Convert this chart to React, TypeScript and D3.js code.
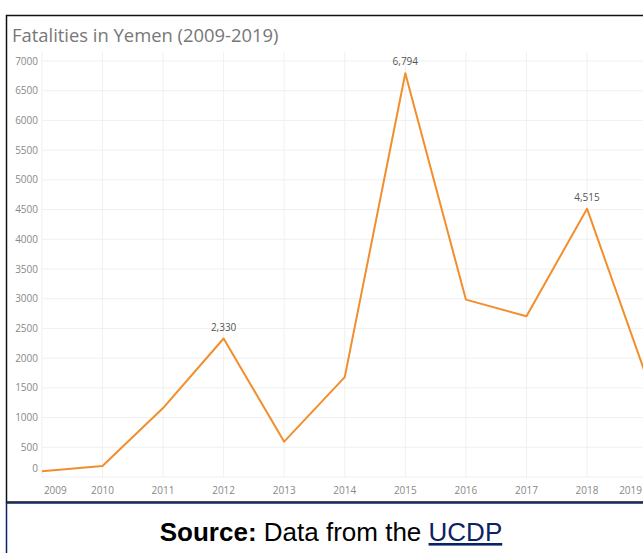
import React from "react";
import * as d3 from "d3";

const years = [2009, 2010, 2011, 2012, 2013, 2014, 2015, 2016, 2017, 2018, 2019];
const fatalities = [96, 186, 1160, 2330, 595, 1680, 6794, 2985, 2704, 4515, 1630];
const labeledYears = [2012, 2015, 2018];
const yTicks = [0, 500, 1000, 1500, 2000, 2500, 3000, 3500, 4000, 4500, 5000, 5500, 6000, 6500, 7000];

const W = 643;
const H = 553;

export default function App() {
  const x = d3.scaleLinear().domain([2009, 2019]).range([41.9, 647.6]);
  const y = d3.scaleLinear().domain([0, 7000]).range([477, 61]);
  const plotLeft = 42;
  const plotTop = 52;
  const plotBottom = 477;
  const line = d3
    .line<number>()
    .x((_, i) => x(years[i]))
    .y((d) => y(d));
  const fmt = d3.format(",");
  const tickFont = "'Open Sans', 'Noto Sans', sans-serif";
  const last = years.length - 1;

  return (
    <svg
      width={W}
      height={H}
      style={{ position: "absolute", left: 0, top: 0, background: "#fff" }}
    >
      <defs>
        <clipPath id="plotclip">
          <rect x={plotLeft} y={plotTop - 20} width={W - plotLeft} height={plotBottom - plotTop + 30} />
        </clipPath>
      </defs>
      {/* chart frame */}
      <rect x={6.5} y={15.5} width={W} height={486.5} fill="#fff" stroke="#111" strokeWidth={1.5} />
      <text x={12} y={42} fontFamily={tickFont} fontSize={18.4} fill="#777">
        Fatalities in Yemen (2009-2019)
      </text>
      {/* horizontal grid */}
      {yTicks.map((t) => (
        <line key={"h" + t} x1={plotLeft} x2={W} y1={y(t)} y2={y(t)} stroke="#f0f0f0" strokeWidth={1} />
      ))}
      {/* vertical grid */}
      {years.map((yr) => (
        <line key={"v" + yr} x1={x(yr)} x2={x(yr)} y1={plotTop} y2={plotBottom + 1} stroke="#f0f0f0" strokeWidth={1} />
      ))}
      {/* y labels */}
      {yTicks.map((t) => (
        <text
          key={"yl" + t}
          x={38}
          y={t === 0 ? y(t) - 9 : y(t)}
          dy="0.35em"
          textAnchor="end"
          fontFamily={tickFont}
          fontSize={10}
          fill="#888"
        >
          {t}
        </text>
      ))}
      {/* x labels */}
      {years.map((yr, i) => (
        <text
          key={"xl" + yr}
          x={i === 0 ? x(yr) + 2 : i === last ? W - 1 : x(yr)}
          y={494}
          textAnchor={i === 0 ? "start" : i === last ? "end" : "middle"}
          fontFamily={tickFont}
          fontSize={10}
          fill="#888"
        >
          {yr}
        </text>
      ))}
      <g clipPath="url(#plotclip)">
        <path d={line(fatalities) || ""} fill="none" stroke="#f28e2b" strokeWidth={2} strokeLinejoin="round" />
      </g>
      {years.map((yr, i) =>
        labeledYears.includes(yr) ? (
          <text
            key={"dl" + yr}
            x={x(yr)}
            y={y(fatalities[i]) - 8}
            textAnchor="middle"
            fontFamily={tickFont}
            fontSize={10}
            fill="#555"
          >
            {fmt(fatalities[i])}
          </text>
        ) : null
      )}
      {/* source box */}
      <rect x={6.5} y={503} width={W} height={60} fill="#fff" stroke="#0b2265" strokeWidth={1.5} />
      <text x={331} y={541} textAnchor="middle" fontFamily="'Liberation Sans', Arial, sans-serif" fontSize={26} fill="#000">
        <tspan fontWeight="bold">Source:</tspan>
        <tspan> Data from the </tspan>
        <tspan fill="#0b2265" textDecoration="underline">UCDP</tspan>
      </text>
    </svg>
  );
}
